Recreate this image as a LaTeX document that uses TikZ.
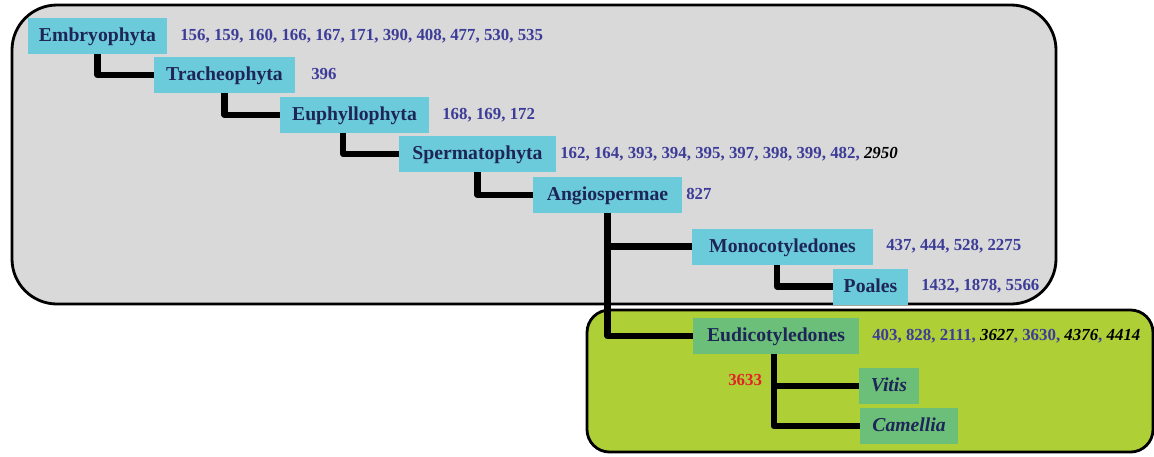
\documentclass[tikz,border=0pt]{standalone}
\usepackage{xcolor}
\usepackage{fontspec}
\setmainfont{Liberation Serif}
\usepackage{tikz}
\usetikzlibrary{calc}
\usetikzlibrary{positioning}
\definecolor{graybg}{HTML}{D9D9D9}
\definecolor{limebg}{HTML}{AECF36}
\definecolor{cyanbox}{HTML}{6BCBDB}
\definecolor{leafbox}{HTML}{6CBF78}
\definecolor{navytext}{HTML}{1E2557}
\definecolor{numblue}{HTML}{3D3D99}
\definecolor{numred}{HTML}{E32228}
\tikzset{>=latex}
\tikzstyle{taxon} = [rectangle, fill = cyanbox, text = navytext, font = \fontsize{14}{16}\selectfont\bfseries, minimum height = 25.6pt, text height = 10pt, text depth = 1.5pt, inner xsep = 0pt]
\tikzstyle{leaf} = [taxon, fill = leafbox]
\tikzstyle{nums} = [anchor = base west, inner sep = 0pt, text = numblue, font = \fontsize{12}{14}\selectfont\bfseries]
\tikzstyle{branch} = [-, draw = black, line width = 4.5pt, line join = round]
\newcommand{\blk}[1]{\textcolor{black}{\itshape #1}}

\begin{document}
\begin{tikzpicture}[x = 0.025cm, y = -0.025cm]
\useasboundingbox (0, 0) rectangle (1154, 456);
\draw [draw = black, line width = 2pt, fill = graybg, rounded corners = 32pt] (12, 5) rectangle (1056, 304);
\draw [draw = black, line width = 2pt, fill = limebg, rounded corners = 16pt] (587, 310) rectangle (1153, 452);
\node [taxon, minimum width = 98.9pt] (Embryo) at (97.5, 36) {Embryophyta};
\node [taxon, minimum width = 100.3pt] (Trach) at (224.5, 75) {Tracheophyta};
\node [taxon, minimum width = 106pt] (Euphy) at (354.5, 115) {Euphyllophyta};
\node [taxon, minimum width = 111.7pt] (Sperm) at (477.5, 154) {Spermatophyta};
\node [taxon, minimum width = 106pt] (Angio) at (607.5, 195) {Angiospermae};
\node [taxon, minimum width = 128.7pt] (Mono) at (782.5, 246.5) {Monocotyledones};
\node [taxon, minimum width = 53.3pt] (Poales) at (870.5, 286.5) {Poales};
\node [leaf, minimum width = 118pt] (Eudi) at (776, 336) {Eudicotyledones};
\node [leaf, minimum width = 42.7pt] (Vitis) at (889, 386) {\itshape Vitis};
\node [leaf, minimum width = 69.7pt] (Camel) at (909, 426) {\itshape Camellia};
\node [nums] (EmbryoN) at (180, 40) {156, 159, 160, 166, 167, 171, 390, 408, 477, 530, 535};
\node [nums] (TrachN) at (311, 79) {396};
\node [nums] (EuphyN) at (442, 119) {168, 169, 172};
\node [nums] (SpermN) at (560, 158) {162, 164, 393, 394, 395, 397, 398, 399, 482, \blk{2950}};
\node [nums] (AngioN) at (686, 199) {827};
\node [nums] (MonoN) at (886, 250.5) {437, 444, 528, 2275};
\node [nums] (PoalesN) at (921, 290.5) {1432, 1878, 5566};
\node [nums] (EudiN) at (872, 340) {403, 828, 2111, \blk{3627}, 3630, \blk{4376}, \blk{4414}};
\node [nums, text = numred] (EudiR) at (728, 385) {3633};
\draw [branch] (Embryo.south) |- (Trach.west);
\draw [branch] (Trach.south) |- (Euphy.west);
\draw [branch] ([xshift = -8pt]Euphy.south) |- (Sperm.west);
\draw [branch] (Sperm.south) |- (Angio.west);
\draw [branch] (Angio.south) |- (Mono.west);
\draw [branch] (Angio.south) |- (Eudi.west);
\draw [branch] ([xshift = -4pt]Mono.south) |- (Poales.west);
\draw [branch] ([xshift = -1.5pt]Eudi.south) |- (Vitis.west);
\draw [branch] ([xshift = -1.5pt]Eudi.south) |- (Camel.west);
\end{tikzpicture}
\end{document}
